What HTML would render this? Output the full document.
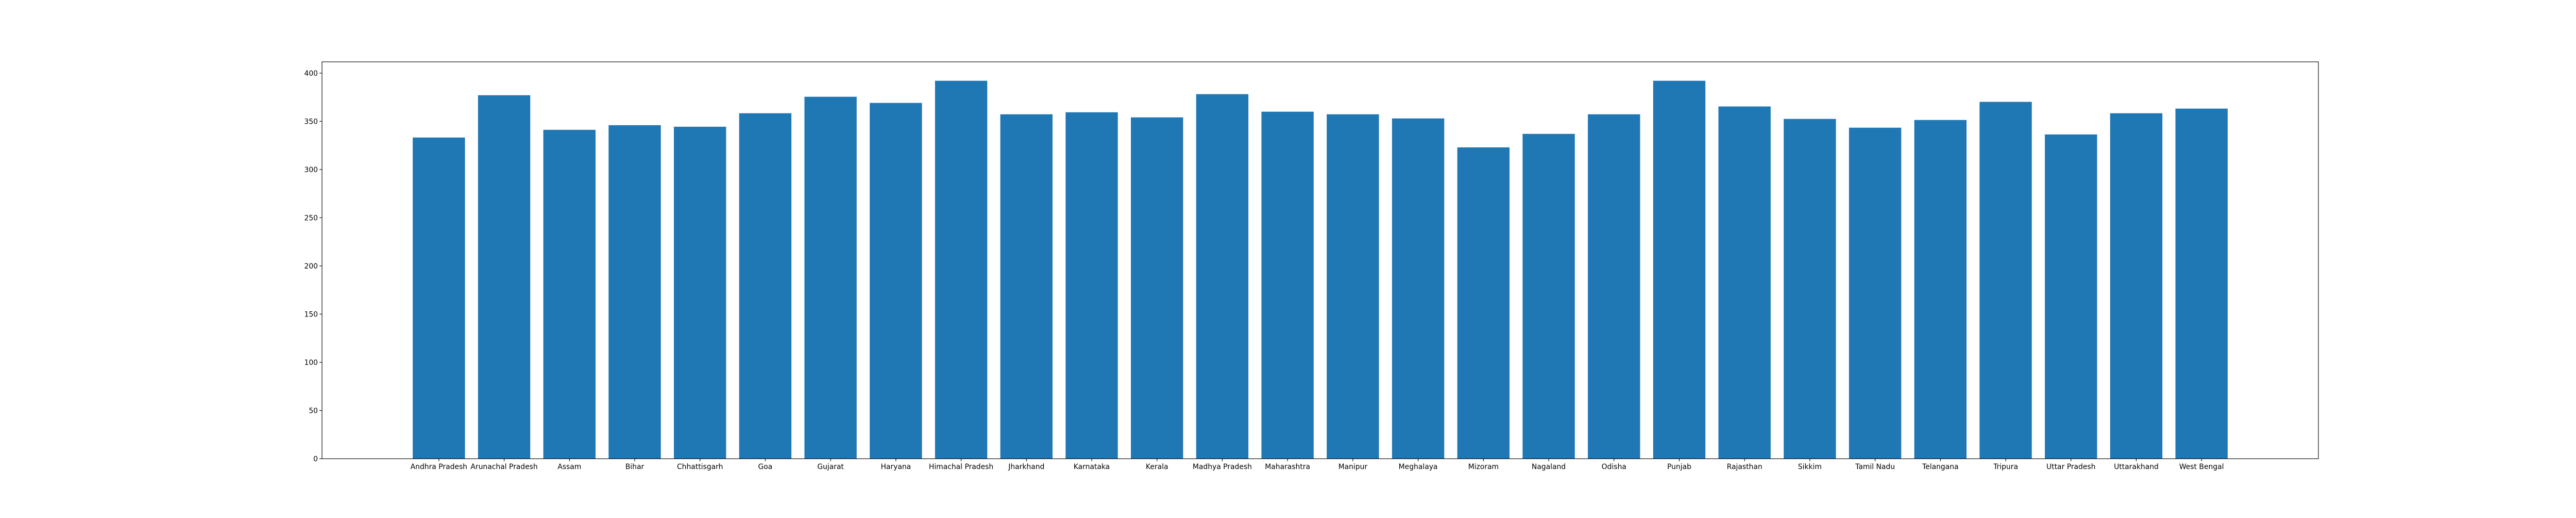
<!DOCTYPE html>
<html><head><meta charset="utf-8"><style>
html,body{margin:0;padding:0;background:#fff;}
svg text{font-family:"DejaVu Sans","Liberation Sans",sans-serif;font-size:13.9px;fill:#000;}
</style></head><body>
<svg id="chart" width="5000" height="1000" xmlns="http://www.w3.org/2000/svg">
<rect width="5000" height="1000" fill="#fff"/>
<g id="bars"></g>
<g id="xticks"></g>
<g id="yticks"></g>
<rect x="625" y="120" width="3875" height="770" fill="none" stroke="#000" stroke-width="1.1"/>
</svg>
<script>
const categories = ["Andhra Pradesh","Arunachal Pradesh","Assam","Bihar","Chhattisgarh","Goa","Gujarat","Haryana","Himachal Pradesh","Jharkhand","Karnataka","Kerala","Madhya Pradesh","Maharashtra","Manipur","Meghalaya","Mizoram","Nagaland","Odisha","Punjab","Rajasthan","Sikkim","Tamil Nadu","Telangana","Tripura","Uttar Pradesh","Uttarakhand","West Bengal"];
const values = [333.2,377.1,341.2,346.0,344.4,358.4,375.5,369.1,392.1,357.3,359.4,354.1,378.2,360.0,357.3,353.0,323.0,337.0,357.3,392.1,365.4,352.5,343.4,351.4,370.2,336.4,358.4,363.2];
const yTicks = [0,50,100,150,200,250,300,350,400];

const NS="http://www.w3.org/2000/svg";
const L=625,R=4500,T=120,B=890;
const n=categories.length;
const xmin=-0.4-0.05*(n-1+0.8), xmax=(n-1)+0.4+0.05*(n-1+0.8);
const ymax=Math.max(...values)*1.05;
const xs=v=>L+(v-xmin)/(xmax-xmin)*(R-L);
const ys=v=>B-v/ymax*(B-T);
const bars=document.getElementById('bars');
const xt=document.getElementById('xticks');
const yt=document.getElementById('yticks');
function mk(tag,attrs){const e=document.createElementNS(NS,tag);for(const k in attrs)e.setAttribute(k,attrs[k]);return e;}
categories.forEach((c,i)=>{
  const x0=xs(i-0.4),x1=xs(i+0.4),y=ys(values[i]);
  const r=mk('rect',{x:x0,y:y,width:x1-x0,height:B-y,fill:'#1f77b4'});
  
  
  bars.appendChild(r);
  const tk=mk('line',{x1:xs(i),x2:xs(i),y1:B,y2:B+4.9,stroke:'#000','stroke-width':1.1});
  
  
  xt.appendChild(tk);
  const t=mk('text',{x:xs(i),y:B+20,'text-anchor':'middle'});
  
  
  t.textContent=c;xt.appendChild(t);
});
yTicks.forEach(v=>{
  const y=ys(v);
  const tk=mk('line',{x1:L-4.9,x2:L,y1:y,y2:y,stroke:'#000','stroke-width':1.1});
  
  
  yt.appendChild(tk);
  const t=mk('text',{x:L-8,y:y+5,'text-anchor':'end'});
  
  
  t.textContent=v;yt.appendChild(t);
});
</script>
</body></html>
